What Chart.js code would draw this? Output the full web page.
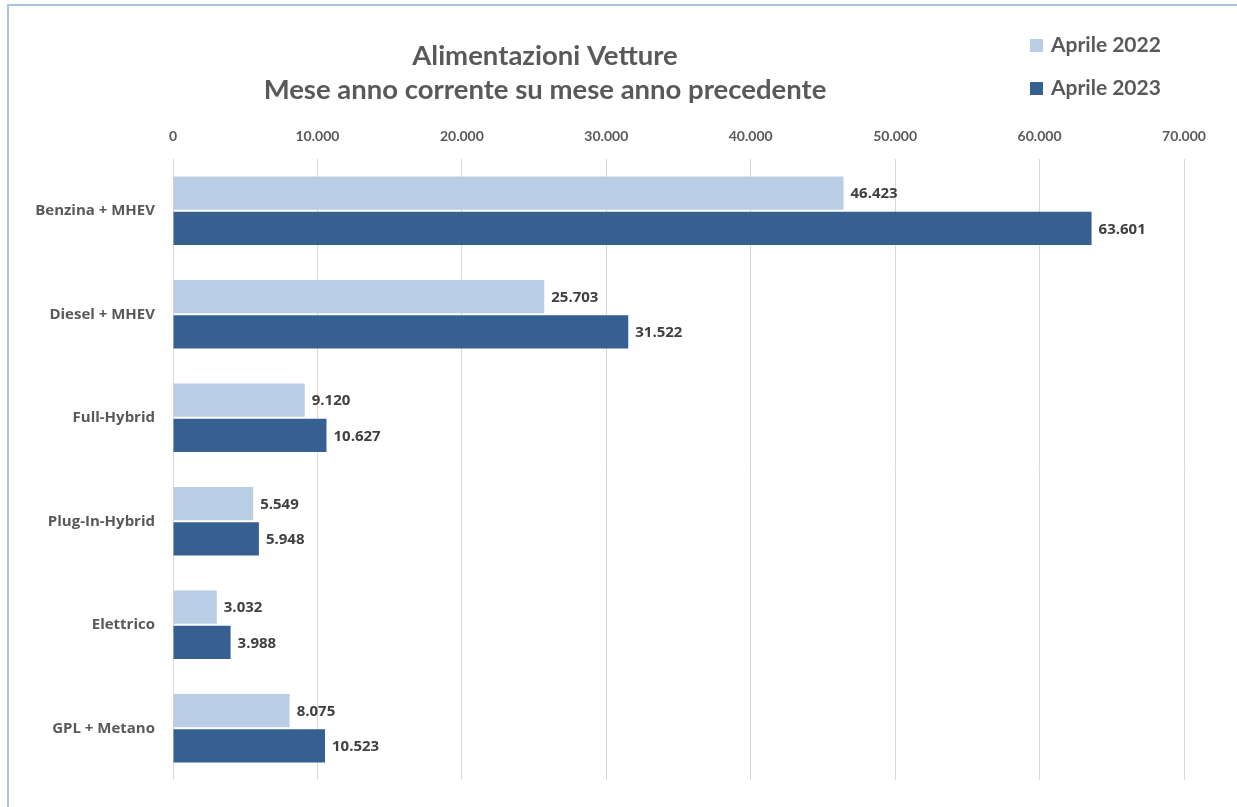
<!DOCTYPE html>
<html>
<head>
<meta charset="utf-8">
<script src="https://cdn.jsdelivr.net/npm/chart.js@4.4.0/dist/chart.umd.min.js"></script>
<style>
  body { margin: 0; background: #fff; }
  #wrap { position: relative; width: 1237px; height: 807px; }
  #frame { position: absolute; left: 7px; top: 4px; right: 0; bottom: 0; border-left: 2px solid #a9c3e2; border-top: 2px solid #a9c3e2; pointer-events: none; }
</style>
</head>
<body>
<div id="wrap">
  <canvas id="chart" width="1237" height="807"></canvas>
  <div id="frame"></div>
</div>
<script>
const categories = ["Benzina + MHEV", "Diesel + MHEV", "Full-Hybrid", "Plug-In-Hybrid", "Elettrico", "GPL + Metano"]
const seriesNames = ["Aprile 2022", "Aprile 2023"]
const april2022 = [46423, 25703, 9120, 5549, 3032, 8075]
const april2023 = [63601, 31522, 10627, 5948, 3988, 10523]
const titleLines = ["Alimentazioni Vetture", "Mese anno corrente su mese anno precedente"]

const lightBlue = "#b9cde5"
const darkBlue = "#35608f"

// 46423 -> "46.423"
function fmt(v) {
    return String(Math.round(v)).replace(/\B(?=(\d{3})+(?!\d))/g, ".")
}

// value labels at the end of each bar
const valueLabels = {
    id: "valueLabels",
    afterDatasetsDraw(chart) {
        const ctx = chart.ctx
        ctx.save()
        ctx.font = "bold 15px 'Open Sans'"
        ctx.fillStyle = "#404040"
        ctx.textBaseline = "middle"
        ctx.textAlign = "left"
        chart.data.datasets.forEach(function(ds, i) {
            chart.getDatasetMeta(i).data.forEach(function(bar, j) {
                ctx.fillText(fmt(ds.data[j]), bar.x + 7, bar.y + 1)
            })
        })
        ctx.restore()
    }
}

// title and legend drawn where the original has them
const header = {
    id: "header",
    afterDraw(chart) {
        const ctx = chart.ctx
        ctx.save()
        ctx.fillStyle = "#595959"
        ctx.textAlign = "center"
        ctx.textBaseline = "middle"
        ctx.font = "bold 27.5px Lato"
        ctx.fillText(titleLines[0], 545, 56)
        ctx.fillText(titleLines[1], 545, 90)

        ctx.textAlign = "left"
        ctx.font = "bold 21px Lato"
        chart.data.datasets.forEach(function(ds, i) {
            const y = 45 + i * 43
            ctx.fillStyle = ds.backgroundColor
            ctx.fillRect(1030, y - 6, 13, 13)
            ctx.fillStyle = "#595959"
            ctx.fillText(ds.label, 1051, y)
        })
        ctx.restore()
    }
}

const ctx = document.getElementById("chart").getContext("2d")

const myChart = new Chart(ctx, {
    type: "bar",
    data: {
        labels: categories,
        datasets: [
            { label: seriesNames[0], data: april2022, backgroundColor: lightBlue },
            { label: seriesNames[1], data: april2023, backgroundColor: darkBlue }
        ]
    },
    options: {
        indexAxis: "y",
        responsive: false,
        animation: false,
        categoryPercentage: 0.68,
        barPercentage: 0.95,
        layout: { padding: { top: 120, right: 53, bottom: 20, left: 0 } },
        plugins: {
            legend: { display: false },
            title: { display: false },
            tooltip: { enabled: false }
        },
        scales: {
            x: {
                position: "top",
                min: 0,
                max: 70000,
                ticks: {
                    stepSize: 10000,
                    padding: 14,
                    color: "#595959",
                    font: { family: "Lato", size: 14, weight: "bold" },
                    callback: function(v) { return fmt(v) }
                },
                grid: { color: "#d9d9d9", drawTicks: false },
                border: { display: false },
                afterFit: function(scale) { scale.height = 39 }
            },
            y: {
                ticks: {
                    padding: 18,
                    color: "#595959",
                    font: { family: "'Open Sans'", size: 15, weight: "bold" }
                },
                grid: { display: false, drawTicks: false },
                border: { display: false },
                afterFit: function(scale) { scale.width = 173 }
            }
        }
    },
    plugins: [valueLabels, header]
});
</script>
</body>
</html>
